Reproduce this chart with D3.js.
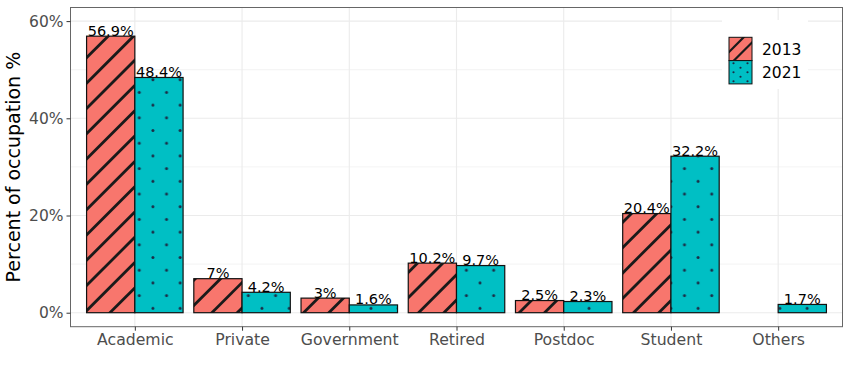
<!DOCTYPE html>
<html><head><meta charset="utf-8">
<script src="https://cdn.jsdelivr.net/npm/d3@7"></script>
<style>html,body{margin:0;padding:0;background:#fff;}svg{display:block;font-family:"DejaVu Sans",sans-serif;}</style>
</head><body>
<svg id="chart" width="850" height="378"></svg>
<script>
const categories = ["Academic","Private","Government","Retired","Postdoc","Student","Others"];
const years = ["2013","2021"];
const values2013 = [56.9, 7, 3, 10.2, 2.5, 20.4, null];
const values2021 = [48.4, 4.2, 1.6, 9.7, 2.3, 32.2, 1.7];
const labels2013 = ["56.9%","7%","3%","10.2%","2.5%","20.4%",""];
const labels2021 = ["48.4%","4.2%","1.6%","9.7%","2.3%","32.2%","1.7%"];
const yTicks = [0, 20, 40, 60];
const yMinor = [10, 30, 50];
const yTitle = "Percent of occupation %";

const fills = {"2013":"#F8766D","2021":"#00BFC4"};
const svg = d3.select("#chart");
const P = {l:70.5, r:842.5, t:7.5, b:326.7};

const x = d3.scalePoint().domain(categories).range([P.l, P.r]).padding(0.6);
const step = x.step();
const xg = d3.scaleBand().domain(years).range([-0.45*step, 0.45*step]);
const y = d3.scaleLinear().domain([-2.88, 62.8]).range([P.b, P.t]);

const defs = svg.append("defs");
const tw = 27.26, th = 25.4;
const pat = defs.append("pattern").attr("id","dots").attr("patternUnits","userSpaceOnUse")
  .attr("x",139.3-6.815).attr("y",295.6-6.35).attr("width",tw).attr("height",th);
pat.append("rect").attr("width",tw).attr("height",th).attr("fill",fills["2021"]);
pat.append("circle").attr("cx",6.815).attr("cy",6.35).attr("r",1.5).attr("fill","#1b2b45");
pat.append("circle").attr("cx",6.815+13.63).attr("cy",6.35+12.7).attr("r",1.5).attr("fill","#1b2b45");

const g = svg.append("g");
g.selectAll(".minor").data(yMinor).join("line")
  .attr("x1",P.l).attr("x2",P.r).attr("y1",d=>y(d)).attr("y2",d=>y(d))
  .attr("stroke","#EBEBEB").attr("stroke-width",0.6);
g.selectAll(".major").data(yTicks).join("line")
  .attr("x1",P.l).attr("x2",P.r).attr("y1",d=>y(d)).attr("y2",d=>y(d))
  .attr("stroke","#EBEBEB").attr("stroke-width",1.1);
g.selectAll(".vmajor").data(categories).join("line")
  .attr("x1",d=>x(d)).attr("x2",d=>x(d)).attr("y1",P.t).attr("y2",P.b)
  .attr("stroke","#EBEBEB").attr("stroke-width",1.1);

const bars = [];
categories.forEach((c,i)=>{
  if (values2013[i] != null) bars.push({cat:c, year:"2013", v:values2013[i], label:labels2013[i]});
  if (values2021[i] != null) bars.push({cat:c, year:"2021", v:values2021[i], label:labels2021[i]});
});
const bw = xg.bandwidth();
const barG = svg.append("g");
bars.forEach((b,idx)=>{
  const x0 = x(b.cat) + xg(b.year), x1 = x0 + bw;
  const y0 = y(b.v), y1 = y(0);
  if (b.year === "2013") {
    barG.append("rect").attr("x",x0).attr("y",y0).attr("width",bw).attr("height",y1-y0).attr("fill",fills["2013"]);
    const cp = defs.append("clipPath").attr("id","cp"+idx);
    cp.append("rect").attr("x",x0).attr("y",y0).attr("width",bw).attr("height",y1-y0);
    const hg = barG.append("g").attr("clip-path","url(#cp"+idx+")");
    const cx = (x0+x1)/2, cy = (y0+y1)/2, sp = 25.3;
    const c0 = cx + cy + 11;
    for (let k=-20;k<=20;k++){
      const c = c0 + k*sp;
      if (c < x0+y0-5 || c > x1+y1+5) continue;
      hg.append("line").attr("x1",c-(y1+5)).attr("y1",y1+5).attr("x2",c-(y0-5)).attr("y2",y0-5)
        .attr("stroke","#1a1a1a").attr("stroke-width",2.8);
    }
  } else {
    barG.append("rect").attr("x",x0).attr("y",y0).attr("width",bw).attr("height",y1-y0).attr("fill","url(#dots)");
  }
  barG.append("rect").attr("x",x0).attr("y",y0).attr("width",bw).attr("height",y1-y0)
    .attr("fill","none").attr("stroke","#111").attr("stroke-width",1.2);
});
svg.append("g").selectAll("text").data(bars.filter(b=>b.label)).join("text")
  .attr("x",b=>x(b.cat)+xg(b.year)+bw/2).attr("y",b=>y(b.v)-0.5)
  .attr("text-anchor","middle").attr("font-size","14.5px").attr("fill","#000")
  .text(b=>b.label);

svg.append("rect").attr("x",P.l).attr("y",P.t).attr("width",P.r-P.l).attr("height",P.b-P.t)
  .attr("fill","none").attr("stroke","#666").attr("stroke-width",1);

const ax = svg.append("g").attr("transform",`translate(0,${P.b})`)
  .call(d3.axisBottom(x).tickSize(4).tickSizeOuter(0).tickPadding(3));
ax.select(".domain").remove();
ax.selectAll(".tick line").attr("stroke","#333");
ax.selectAll(".tick text").attr("fill","#4D4D4D").attr("font-size","15.7px").attr("font-family","DejaVu Sans");
const ay = svg.append("g").attr("transform",`translate(${P.l},0)`)
  .call(d3.axisLeft(y).tickValues(yTicks).tickFormat(d=>d+"%").tickSize(4).tickPadding(3));
ay.select(".domain").remove();
ay.selectAll(".tick line").attr("stroke","#333");
ay.selectAll(".tick text").attr("fill","#4D4D4D").attr("font-size","15.5px").attr("font-family","DejaVu Sans");

svg.append("text").attr("transform",`translate(20,${(P.t+P.b)/2}) rotate(-90)`)
  .attr("text-anchor","middle").attr("font-size","19px").attr("fill","#000").text(yTitle);

const lg = svg.append("g");
lg.append("rect").attr("x",722).attr("y",20).attr("width",86).attr("height",69).attr("fill","#fff");
const keyX = 729, keyW = 23, keyH = 23.3, keyY0 = 37.3;
years.forEach((yr,i)=>{
  const ky = keyY0 + i*keyH;
  lg.append("rect").attr("x",keyX).attr("y",ky).attr("width",keyW).attr("height",keyH).attr("fill",fills[yr]);
  const cp = defs.append("clipPath").attr("id","lcp"+i);
  cp.append("rect").attr("x",keyX).attr("y",ky).attr("width",keyW).attr("height",keyH);
  const kg = lg.append("g").attr("clip-path","url(#lcp"+i+")");
  const cx = keyX+keyW/2, cy = ky+keyH/2;
  if (yr==="2013") {
    [-8.5, 5].forEach(o=>{
      const c = cx+cy+o;
      kg.append("line").attr("x1",c-(ky+keyH+3)).attr("y1",ky+keyH+3).attr("x2",c-(ky-3)).attr("y2",ky-3)
        .attr("stroke","#1a1a1a").attr("stroke-width",2.2);
    });
  } else {
    const pts = [[-7,-9],[7,-9],[0,-4.5],[-7,0],[7,0],[0,4.5],[-7,9],[7,9]];
    pts.forEach(p=>kg.append("circle").attr("cx",cx+p[0]).attr("cy",cy+p[1]).attr("r",1.1).attr("fill","#1b2b45"));
  }
  lg.append("rect").attr("x",keyX).attr("y",ky).attr("width",keyW).attr("height",keyH)
    .attr("fill","none").attr("stroke","#111").attr("stroke-width",1);
  lg.append("text").attr("x",762).attr("y",ky+keyH/2+5.6).attr("font-size","15.5px").attr("fill","#000").text(yr);
});
</script>
</body></html>
